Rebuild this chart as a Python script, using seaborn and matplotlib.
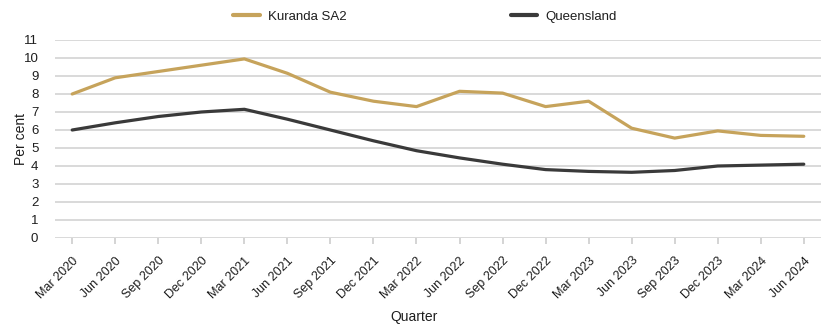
import matplotlib
matplotlib.use("Agg")
import matplotlib.pyplot as plt
import seaborn as sns
import pandas as pd

quarters = ["Mar 2020", "Jun 2020", "Sep 2020", "Dec 2020", "Mar 2021", "Jun 2021",
            "Sep 2021", "Dec 2021", "Mar 2022", "Jun 2022", "Sep 2022", "Dec 2022",
            "Mar 2023", "Jun 2023", "Sep 2023", "Dec 2023", "Mar 2024", "Jun 2024"]
kuranda = [8.0, 8.9, 9.25, 9.6, 9.95, 9.15, 8.1, 7.6, 7.3, 8.15, 8.05, 7.3,
           7.6, 6.1, 5.55, 5.95, 5.7, 5.65]
queensland = [6.0, 6.4, 6.75, 7.0, 7.15, 6.6, 6.0, 5.4, 4.85, 4.45, 4.1, 3.8,
              3.7, 3.65, 3.75, 4.0, 4.05, 4.1]
series_names = ["Kuranda SA2", "Queensland"]
colors = ["#C6A35B", "#3A3A3A"]

rows = []
for name, vals in zip(series_names, [kuranda, queensland]):
    for i, (q, v) in enumerate(zip(quarters, vals)):
        rows.append({"idx": i, "Quarter": q, "Per cent": v, "Series": name})
df = pd.DataFrame(rows)

sns.set_theme(style="white")
plt.rcParams["font.family"] = ["Liberation Sans", "DejaVu Sans"]
text_color = "#1E1E1E"

fig = plt.figure(figsize=(8.35, 3.29), dpi=100)
ax = fig.add_axes([55 / 835, 1 - 238 / 329, (821 - 55) / 835, (238 - 40) / 329])

sns.lineplot(data=df, x="idx", y="Per cent", hue="Series", palette=colors,
             hue_order=series_names, linewidth=2.3, ax=ax, sort=False)

ax.set_xlim(-0.4, len(quarters) - 0.6)
ax.set_ylim(0, 11)
ax.set_yticks(range(0, 12))
ax.yaxis.grid(True, color="#CFCFCF", linewidth=1.1)
ax.set_axisbelow(True)
for s in ax.spines.values():
    s.set_visible(False)

ax.set_xticks(range(len(quarters)))
ax.set_xticklabels(quarters, rotation=45, ha="right", rotation_mode="anchor",
                   fontsize=9, color=text_color)
ax.tick_params(axis="x", bottom=True, length=4, color="#CFCFCF", pad=8)
ax.tick_params(axis="y", left=False, labelsize=9.5, pad=6, labelcolor=text_color)

ax.set_xlabel("Quarter", fontsize=10, color=text_color)
ax.set_ylabel("Per cent", fontsize=10, color=text_color)
ax.xaxis.set_label_coords(0.469, -0.365)
ax.yaxis.set_label_coords(-0.035, 0.5)

handles, labels = ax.get_legend_handles_labels()
leg = ax.legend(handles, labels, loc="lower center", bbox_to_anchor=(0.483, 1.06), ncol=2,
                frameon=False, fontsize=9.5, columnspacing=12.5, handlelength=2.0,
                handletextpad=0.6, borderaxespad=0)
for t in leg.get_texts():
    t.set_color(text_color)
for h in leg.get_lines():
    h.set_linewidth(3.0)

fig.savefig("out.png", dpi=100)
